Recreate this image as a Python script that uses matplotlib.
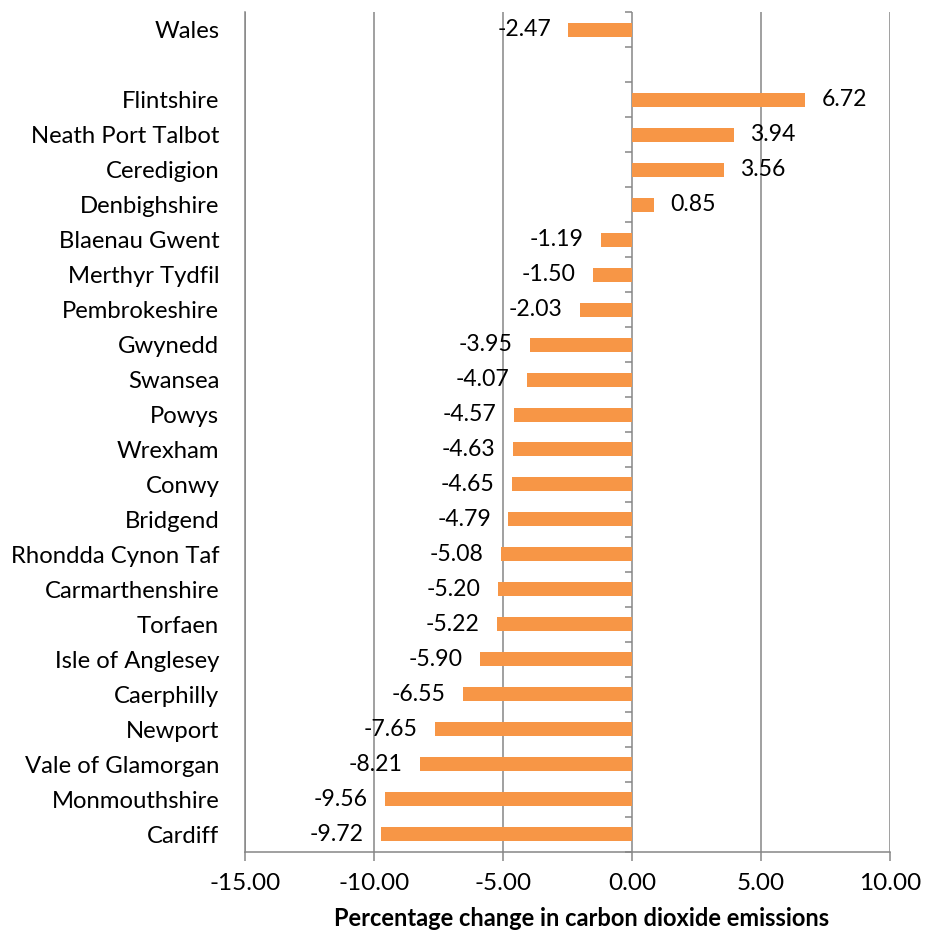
import matplotlib.pyplot as plt
import numpy as np
from matplotlib.ticker import FormatStrFormatter, FixedLocator

plt.rcParams['font.family'] = ['Lato', 'DejaVu Sans']

# Local authorities, top to bottom (the empty entry is a spacer row)
areas = ["Wales", "", "Flintshire", "Neath Port Talbot", "Ceredigion", "Denbighshire",
         "Blaenau Gwent", "Merthyr Tydfil", "Pembrokeshire", "Gwynedd", "Swansea",
         "Powys", "Wrexham", "Conwy", "Bridgend", "Rhondda Cynon Taf",
         "Carmarthenshire", "Torfaen", "Isle of Anglesey", "Caerphilly", "Newport",
         "Vale of Glamorgan", "Monmouthshire", "Cardiff"]
change = [-2.47, np.nan, 6.72, 3.94, 3.56, 0.85,
          -1.19, -1.50, -2.03, -3.95, -4.07,
          -4.57, -4.63, -4.65, -4.79, -5.08,
          -5.20, -5.22, -5.90, -6.55, -7.65,
          -8.21, -9.56, -9.72]
xticks = [-15, -10, -5, 0, 5, 10]

orange = "#F79646"
grey = "#868686"

fig = plt.figure(figsize=(9.25, 9.38), dpi=100)
ax = fig.add_axes([245/925, 1 - 851.5/938, 645/925, 839/938])

y = np.arange(len(areas))
vals = np.array(change)
ax.barh(y, np.nan_to_num(vals), height=0.4, color=orange, zorder=3)

for yi, v in zip(y, vals):
    if np.isnan(v):
        continue
    off = 12 if v >= 0 else -12.5
    ax.annotate("%.2f" % v, (v, yi), xytext=(off, 0), textcoords="offset points",
                ha="left" if v >= 0 else "right", va="center", fontsize=16.6, zorder=4)

ax.set_xlim(-15, 10)
ax.set_ylim(len(areas) - 0.5, -0.5)
ax.set_xticks(xticks)
ax.xaxis.set_major_formatter(FormatStrFormatter('%.2f'))
ax.set_yticks(y)
ax.set_yticklabels(areas)

ax.tick_params(axis='y', length=0, pad=18.5, labelsize=17.2)
ax.tick_params(axis='x', length=6.5, width=1.1, color=grey, pad=9, labelsize=17.5)

ax.grid(axis='x', color=grey, linewidth=1.1, zorder=1)
for s in ['top', 'right']:
    ax.spines[s].set_visible(False)
for s in ['left', 'bottom']:
    ax.spines[s].set_color(grey)
    ax.spines[s].set_linewidth(1.1)

# category axis crossing at zero, with ticks between categories
zero_ax = ax.secondary_yaxis((0 - (-15)) / 25)
for s in ['left', 'right']:
    zero_ax.spines[s].set_visible(False)
zero_ax.yaxis.set_major_locator(FixedLocator(np.arange(len(areas) + 1) - 0.5))
zero_ax.yaxis.set_ticks_position('left')
zero_ax.tick_params(axis='y', length=5, width=1.1, color=grey, direction='out',
                    labelleft=False, labelright=False)

ax.set_xlabel("Percentage change in carbon dioxide emissions", fontsize=17,
              fontweight='bold')
ax.xaxis.set_label_coords((582 - 245) / 645, -0.066)

fig.savefig("out.png", dpi=100)
